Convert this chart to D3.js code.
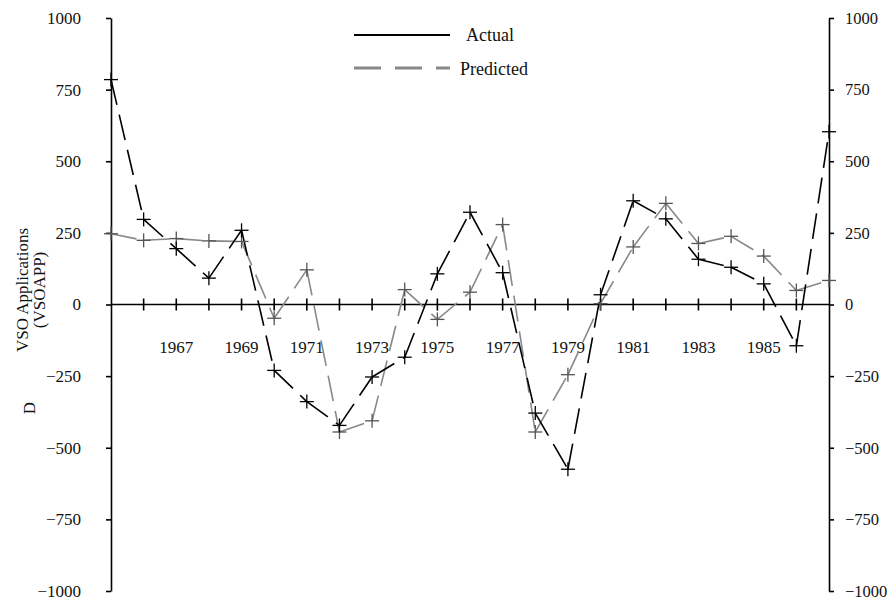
<!DOCTYPE html>
<html><head><meta charset="utf-8">
<script src="https://cdn.jsdelivr.net/npm/d3@7/dist/d3.min.js"></script>
<style>body{margin:0;background:#fff}svg{display:block}text{font-family:"Liberation Serif","Times New Roman",serif;fill:#111}</style>
</head><body><svg id="c" width="888" height="601"></svg>
<script>
const years = [1965,1966,1967,1968,1969,1970,1971,1972,1973,1974,1975,1976,1977,1978,1979,1980,1981,1982,1983,1984,1985,1986,1987];
const actual = [785,297,195,92,259,-230,-339,-422,-253,-184,107,322,111,-379,-575,34,362,299,158,130,72,-144,603];
const predicted = [247,224,230,222,220,-48,121,-445,-406,52,-52,43,279,-445,-245,3,201,353,213,238,169,49,84];
const yTicks = [-1000,-750,-500,-250,0,250,500,750,1000];
const xTickYears = [1966,1967,1968,1969,1970,1971,1972,1973,1974,1975,1976,1977,1978,1979,1980,1981,1982,1983,1984,1985,1986];
const xLabelYears = [1967,1969,1971,1973,1975,1977,1979,1981,1983,1985];
const seriesNames = ["Actual","Predicted"];

const svg = d3.select("#c");
const x = d3.scaleLinear().domain([1965,1987]).range([111,829]);
const y = d3.scaleLinear().domain([-1000,1000]).range([591,18]);
const fmt = d => d3.format("d")(d).replace("-", "\u2212");

const la = svg.append("g").attr("transform",`translate(${x(1965)},0)`)
  .call(d3.axisLeft(y).tickValues(yTicks).tickSize(5).tickSizeOuter(0).tickPadding(25).tickFormat(fmt));
la.select(".domain").attr("stroke","#000").attr("stroke-width",1.6);
la.selectAll(".tick line").attr("stroke","#000").attr("stroke-width",1.6);
la.selectAll("text").style("font-size","17px").attr("fill","#111");

const ra = svg.append("g").attr("transform",`translate(${x(1987)},0)`)
  .call(d3.axisRight(y).tickValues(yTicks).tickSize(5).tickSizeOuter(0).tickPadding(11).tickFormat(fmt));
ra.select(".domain").attr("stroke","#000").attr("stroke-width",1.6);
ra.selectAll(".tick line").attr("stroke","#000").attr("stroke-width",1.6);
ra.selectAll("text").style("font-size","16.5px").attr("fill","#111");

const y0 = y(0);
svg.append("line").attr("x1",x(1965)).attr("x2",x(1987)).attr("y1",y0).attr("y2",y0)
  .attr("stroke","#000").attr("stroke-width",1.6);
svg.append("g").selectAll("line").data(xTickYears).join("line")
  .attr("x1",d=>x(d)).attr("x2",d=>x(d)).attr("y1",y0-6).attr("y2",y0+6)
  .attr("stroke","#000").attr("stroke-width",1.6);
svg.append("g").selectAll("text").data(xLabelYears).join("text")
  .attr("x",d=>x(d)).attr("y",y0+48).attr("text-anchor","middle")
  .style("font-size","17px").text(d=>d);

svg.append("text").attr("transform","translate(28,290) rotate(-90)").attr("text-anchor","middle")
  .style("font-size","17px").text("VSO Applications");
svg.append("text").attr("transform","translate(45,290) rotate(-90)").attr("text-anchor","middle")
  .style("font-size","17px").text("(VSOAPP)");
svg.append("text").attr("transform","translate(35,408) rotate(-90)").attr("text-anchor","middle")
  .style("font-size","17px").text("D");

function drawSeries(vals, color, width, dash){
  const pairs = d3.pairs(years.map((yr,i)=>[yr,vals[i]]));
  const line = d3.line().x(d=>x(d[0])).y(d=>y(d[1]));
  svg.append("g").selectAll("path").data(pairs).join("path")
    .attr("d",line).attr("fill","none").attr("stroke",color)
    .attr("stroke-width",width).attr("stroke-dasharray",dash);
}
drawSeries(predicted,"#888",1.6,"26,10");
drawSeries(actual,"#000",1.6,"26,10");

function drawMarkers(vals,color){
  const g = svg.append("g").attr("stroke",color).attr("stroke-width",1.3);
  years.forEach((yr,i)=>{
    const px = x(yr), py = y(vals[i]);
    g.append("line").attr("x1",px-7).attr("x2",px+7).attr("y1",py).attr("y2",py);
    g.append("line").attr("x1",px).attr("x2",px).attr("y1",py-7).attr("y2",py+7);
  });
}
drawMarkers(predicted,"#555");
drawMarkers(actual,"#000");

const lg = svg.append("g");
lg.append("line").attr("x1",354).attr("x2",450).attr("y1",35).attr("y2",35).attr("stroke","#000").attr("stroke-width",1.8);
lg.append("text").attr("x",466).attr("y",41).style("font-size","18px").text(seriesNames[0]);
lg.append("line").attr("x1",354).attr("x2",450).attr("y1",68).attr("y2",68).attr("stroke","#888").attr("stroke-width",3).attr("stroke-dasharray","27,14");
lg.append("text").attr("x",460).attr("y",75).style("font-size","18px").text(seriesNames[1]);
</script></body></html>
